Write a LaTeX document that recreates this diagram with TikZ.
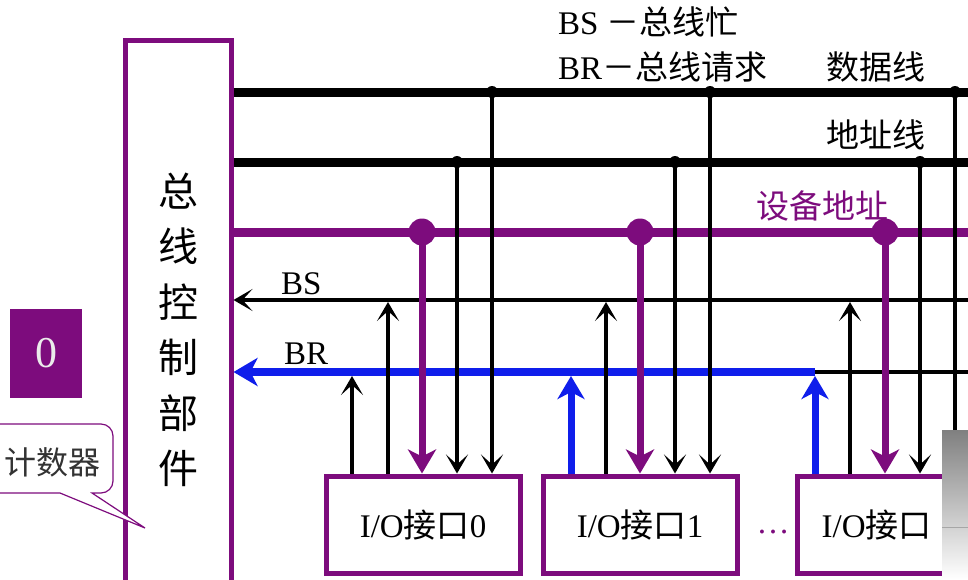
\documentclass[tikz,border=0pt]{standalone}
\usepackage{fontspec}
\setmainfont{Liberation Serif}
\newfontfamily\cjk{Noto Sans CJK SC}
\usetikzlibrary{arrows.meta}
\definecolor{pur}{RGB}{125,12,125}
\definecolor{blu}{RGB}{15,30,235}
\definecolor{shade}{RGB}{140,138,132}
\begin{document}
\begin{tikzpicture}[x=1pt,y=-1pt,
  ctrlbox/.style={draw=pur,line width=5pt,minimum width=106pt,minimum height=580pt,inner sep=0pt,align=center,font=\fontsize{40}{55.5}\selectfont\cjk},
  iobox/.style={draw=pur,line width=5pt,fill=white,minimum width=194pt,minimum height=97pt,inner sep=0pt,font=\fontsize{33}{36}\selectfont},
  lab/.style={inner sep=0pt,font=\fontsize{33}{36}\selectfont},
  bus/.style={line width=9pt,black},
  devbus/.style={line width=9pt,pur},
  thinline/.style={line width=3.5pt,black},
  blueline/.style={line width=8pt,blu},
  tipB/.style={-{Stealth[length=19pt,width=22pt,inset=10pt]}},
  tipBlue/.style={-{Stealth[length=24pt,width=28pt,inset=7pt]}},
  devarrow/.style={line width=7pt,pur,-{Stealth[length=24pt,width=28pt,inset=7pt]}},
  bluearrow/.style={line width=7pt,blu,-{Stealth[length=23pt,width=27pt,inset=7pt]}},
  sdot/.style={circle,fill=black,inner sep=0pt,minimum size=12pt},
  pdot/.style={circle,fill=pur,inner sep=0pt,minimum size=27pt},
]
\useasboundingbox (0,0) rectangle (968,579);
\fill[white] (0,0) rectangle (968,579);
\clip (0,0) rectangle (968,579);

% legend and labels
\node[lab,anchor=west] (lg1) at (558,22) {BS {\cjk －总线忙}};
\node[lab,anchor=west] (lg2) at (558,67) {BR{\cjk －总线请求}};
\node[lab,anchor=west] (ldata) at (826,67) {\cjk 数据线};
\node[lab,anchor=west] (laddr) at (826,135) {\cjk 地址线};
\node[lab,anchor=west,text=pur] (ldev) at (756,206) {\cjk 设备地址};
\node[lab,anchor=west] (lbs) at (281,284) {BS};
\node[lab,anchor=west] (lbr) at (284,354) {BR};

% bus control unit
\node[ctrlbox] (ctrl) at (178,330) {总\\线\\控\\制\\部\\件};

% counter (purple box and callout)
\node[fill=pur,minimum width=72pt,minimum height=89pt,inner sep=0pt,text=white!92!black,font=\fontsize{44}{48}\selectfont] (zero) at (46,353.5) {0};
\draw[pur,line width=1.2pt,fill=white] (-40,424) [rounded corners=12pt] -- (113,424) -- (113,493) [sharp corners] -- (92,493) -- (145,528) -- (60,493) -- (-40,493) -- cycle;
\node[lab,text=black!80,font=\fontsize{32}{36}\selectfont\cjk] (cnt) at (53,462) {计数器};

% bus lines
\coordinate (dataR) at (968,92);
\coordinate (addrR) at (968,162);
\coordinate (devR) at (968,232);
\coordinate (bsR) at (968,300);
\coordinate (brR) at (968,372);
\coordinate (brE) at (815,372);
\draw[bus] (ctrl.east |- dataR) -- (dataR);
\draw[bus] (ctrl.east |- addrR) -- (addrR);
\draw[devbus] (ctrl.east |- devR) -- (devR);
\draw[thinline,tipB] (bsR) -- (ctrl.east |- bsR);
\draw[thinline] (brE) -- (brR);
\draw[blueline,tipBlue] (brE) -- (ctrl.east |- brR);

% interfaces
\node[iobox] (io0) at (423,524.5) {I/O{\cjk 接口}0};
\node[iobox] (io1) at (640,524.5) {I/O{\cjk 接口}1};
\node[iobox] (ion) at (894,524.5) {};
\node[lab,anchor=west] (iontext) at ([xshift=27pt]ion.west) {I/O{\cjk 接口}};
\node[lab,text=pur] (dots) at (773,532) {…};

% tap dots
\node[sdot] (dt0) at (492,92) {};
\node[sdot] (at0) at (457,162) {};
\node[pdot] (pd0) at (422,232) {};
\node[sdot] (dt1) at (710,92) {};
\node[sdot] (at1) at (675,162) {};
\node[pdot] (pd1) at (640,232) {};
\node[sdot] (dtn) at (955,92) {};
\node[sdot] (atn) at (920,162) {};
\node[pdot] (pdn) at (885,232) {};

% interface 0
\draw[thinline,tipB] (io0.north -| 352,0) -- (352,376);
\draw[thinline,tipB] (io0.north -| 388,0) -- (388,302);
\draw[devarrow] (pd0.center) -- (pd0.center |- io0.north);
\draw[thinline,tipB] (at0.center) -- (at0.center |- io0.north);
\draw[thinline,tipB] (dt0.center) -- (dt0.center |- io0.north);

% interface 1
\draw[bluearrow] (io1.north -| 571,0) -- (571,376);
\draw[thinline,tipB] (io1.north -| 606,0) -- (606,302);
\draw[devarrow] (pd1.center) -- (pd1.center |- io1.north);
\draw[thinline,tipB] (at1.center) -- (at1.center |- io1.north);
\draw[thinline,tipB] (dt1.center) -- (dt1.center |- io1.north);

% interface n
\draw[bluearrow] (ion.north -| brE) -- (brE |- 0,376);
\draw[thinline,tipB] (ion.north -| 850,0) -- (850,302);
\draw[devarrow] (pdn.center) -- (pdn.center |- ion.north);
\draw[thinline,tipB] (atn.center) -- (atn.center |- ion.north);
\draw[thinline,tipB] (dtn.center) -- (dtn.center |- ion.north);

% grey overlay at lower right
\fill[shade] (942,430) rectangle (968,579);
\draw[black!35,line width=1pt] (942,527) -- (968,527);
\end{tikzpicture}
\end{document}
